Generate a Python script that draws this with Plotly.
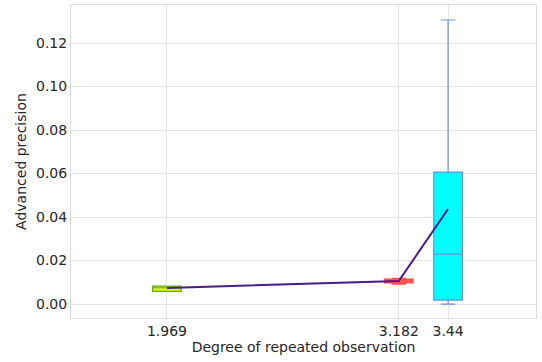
import plotly.graph_objects as go

x_pos = [1.969, 3.182, 3.44]
tick_text = ["1.969", "3.182", "3.44"]
q1 = [0.0058, 0.0097, 0.0018]
median = [0.0075, 0.0106, 0.0230]
q3 = [0.0083, 0.0115, 0.0607]
lower = [0.0058, 0.0092, 0.0000]
upper = [0.0083, 0.0118, 0.1306]
means = [0.0074, 0.0106, 0.0437]

fills = ["#ddff00", "#ff6040", "#00ffff"]
edges = ["#66aa22", "#ff4d4d", "#6a8fe0"]

fig = go.Figure()
for i in range(3):
    fig.add_trace(go.Box(
        x=[x_pos[i]], q1=[q1[i]], median=[median[i]], q3=[q3[i]],
        lowerfence=[lower[i]], upperfence=[upper[i]],
        width=0.15, whiskerwidth=0.5,
        fillcolor=fills[i], line=dict(color=edges[i], width=1.2),
        showlegend=False, hoverinfo="skip"))

fig.add_trace(go.Scatter(x=x_pos, y=means, mode="lines",
                         line=dict(color="#4b1a8c", width=2), showlegend=False))

fig.update_layout(
    width=542, height=362,
    margin=dict(l=71, r=6, t=5, b=44),
    paper_bgcolor="white", plot_bgcolor="white",
    font=dict(family="DejaVu Sans", size=14, color="#262626"),
    xaxis=dict(range=[1.467, 3.900], tickvals=x_pos, ticktext=tick_text,
               showgrid=True, gridcolor="#e5e5e5", zeroline=False,
               showline=True, linecolor="#dcdcdc", mirror=True,
               title=dict(text="Degree of repeated observation", standoff=3,
                          font=dict(size=14)), ticks=""),
    yaxis=dict(range=[-0.0064, 0.1375], tickvals=[0, 0.02, 0.04, 0.06, 0.08, 0.10, 0.12],
               tickformat=".2f",
               showgrid=True, gridcolor="#e5e5e5", zeroline=False,
               showline=True, linecolor="#dcdcdc", mirror=True,
               title=dict(text="Advanced precision", standoff=6, font=dict(size=14)),
               ticks=""),
)

fig.write_html("out.html", config={"displayModeBar": False},
               post_script="document.body.style.margin='0';")
